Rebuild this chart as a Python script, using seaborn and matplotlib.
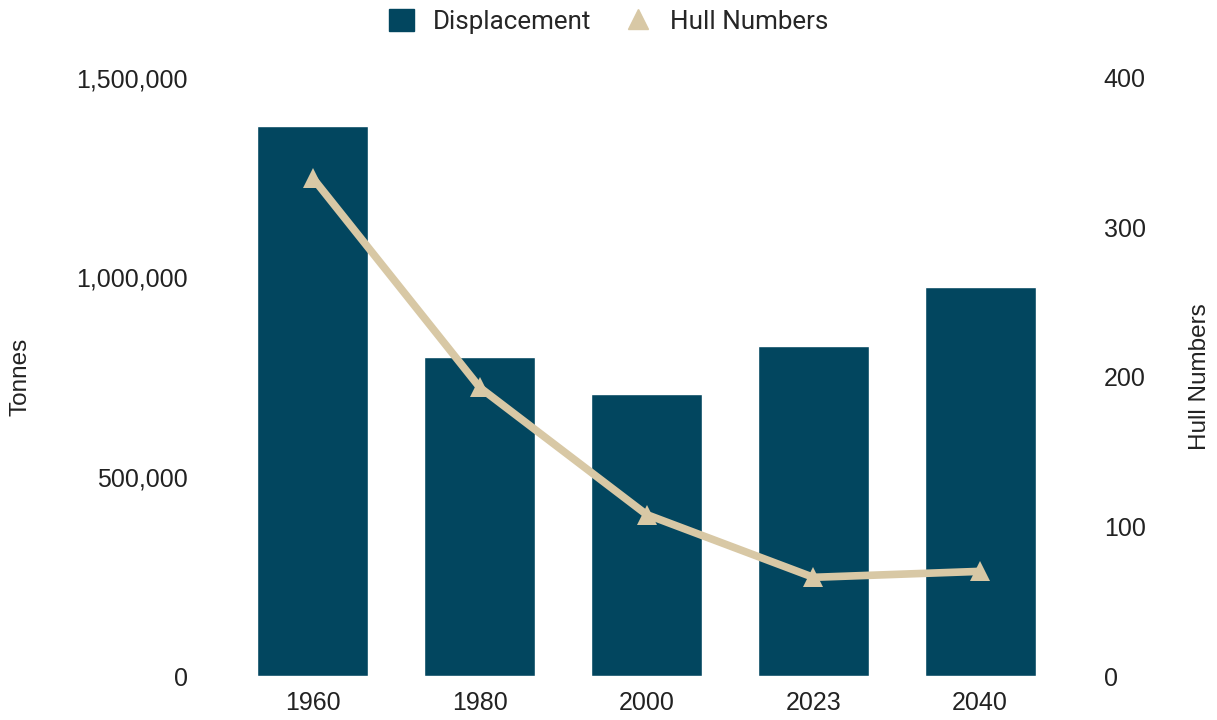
import matplotlib
matplotlib.use("Agg")
import matplotlib.pyplot as plt
import seaborn as sns
import pandas as pd
from matplotlib.ticker import FuncFormatter
from matplotlib.lines import Line2D
from matplotlib.patches import Patch

years = ["1960", "1980", "2000", "2023", "2040"]
displacement = [1380000, 800000, 707000, 828000, 976000]
hull_numbers = [333, 193, 108, 66, 70]

sns.set_theme(style="white")
plt.rcParams['font.family'] = ['Liberation Sans', 'DejaVu Sans']

BAR = "#02465F"
LINE = "#D8C8A5"
TXT = "#222222"

df = pd.DataFrame({"year": years, "disp": displacement, "hull": hull_numbers})

fig = plt.figure(figsize=(12.17, 7.2), dpi=100)
ax = fig.add_axes([0.1886, 0.0611, 0.6853, 0.8306])
sns.barplot(data=df, x="year", y="disp", color=BAR, width=0.665, ax=ax, saturation=1)
ax.set_xlim(-0.5, 4.5)
ax.set_ylim(0, 1500000)
ax.set_yticks([0, 500000, 1000000, 1500000])
ax.yaxis.set_major_formatter(FuncFormatter(lambda v, p: f"{int(v):,}"))
ax.set_xlabel("")
ax.set_ylabel("Tonnes", fontsize=17.5, color=TXT)
ax.yaxis.set_label_coords(-0.237, 0.5)
ax.tick_params(axis="both", labelsize=18, colors=TXT, length=0)
ax.tick_params(axis="y", pad=30)
ax.tick_params(axis="x", pad=11)
for lbl in ax.get_xticklabels():
    lbl.set_family(['Liberation Sans Narrow', 'Liberation Sans', 'DejaVu Sans'])
    lbl.set_fontsize(18)
for s in ax.spines.values():
    s.set_visible(False)

ax2 = ax.twinx()
sns.lineplot(x=list(range(len(years))), y=hull_numbers, ax=ax2, color=LINE, linewidth=5.5,
             marker="^", markersize=15, markeredgecolor=LINE, markeredgewidth=0)
ax2.set_ylim(0, 400)
ax2.set_yticks([0, 100, 200, 300, 400])
ax2.set_ylabel("Hull Numbers", fontsize=17.5, color=TXT)
ax2.yaxis.set_label_coords(1.151, 0.5)
ax2.tick_params(axis="y", labelsize=18, colors=TXT, length=0, pad=29)
for s in ax2.spines.values():
    s.set_visible(False)
ax2.grid(False)

handles = [Patch(facecolor=BAR, edgecolor=BAR),
           Line2D([], [], linestyle="none", marker="^", markersize=15, color=LINE)]
fig.legend(handles, ["Displacement", "Hull Numbers"], loc="upper center",
           bbox_to_anchor=(0.5, 1.02), ncol=2, frameon=False,
           prop={'family': ['Roboto', 'DejaVu Sans'], 'size': 18.7},
           handlelength=0.95, handleheight=0.95, columnspacing=1.3, handletextpad=0.75)

fig.savefig("out.png", dpi=100)
